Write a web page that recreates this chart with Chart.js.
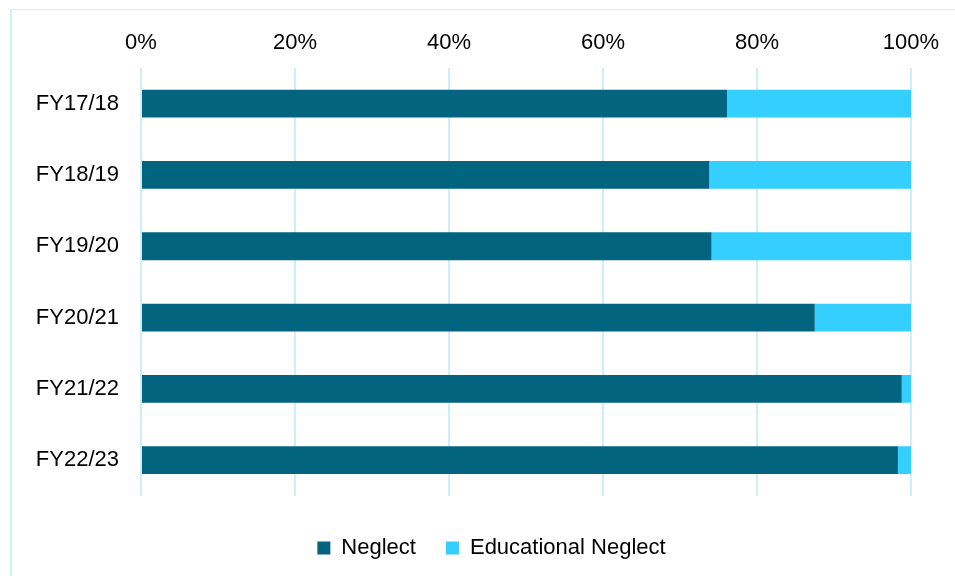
<!DOCTYPE html>
<html>
<head>
<meta charset="utf-8">
<script src="https://cdn.jsdelivr.net/npm/chart.js@4"></script>
<style>
  html, body { margin: 0; padding: 0; background: #fff; }
  #wrap { position: relative; width: 955px; height: 576px; overflow: hidden; }
  #frame {
    position: absolute; left: 10px; top: 9px; width: 1000px; height: 600px;
    border-left: 2px solid #d2f0fd; border-top: 1px solid #d2f0fd;
  }
  #chart1 { position: absolute; left: 0; top: 0; }
</style>
</head>
<body>
<div id="wrap">
  <div id="frame"></div>
  <canvas id="chart1" width="955" height="576"></canvas>
</div>
<script>
const years = ["FY17/18", "FY18/19", "FY19/20", "FY20/21", "FY21/22", "FY22/23"];
const neglect = [76.1, 73.8, 74.1, 87.5, 98.8, 98.3];
const educationalNeglect = [23.9, 26.2, 25.9, 12.5, 1.2, 1.7];
const tickValues = [0, 20, 40, 60, 80, 100];

// nudge the legend to the right like in the original
const legendShift = {
  id: "legendShift",
  afterLayout(chart) {
    chart.legend.left += 36;
    chart.legend.right += 36;
  },
};

function renderChart() {
  const ctx = document.querySelector("#chart1").getContext("2d");
  Chart.defaults.font.family = "'Liberation Sans', Arial, sans-serif";
  Chart.defaults.color = "#000";

  const chart = new Chart(ctx, {
    type: "bar",
    data: {
      labels: years,
      datasets: [
        {
          label: "Neglect",
          data: neglect,
          backgroundColor: "#02647f",
          borderWidth: 0,
        },
        {
          label: "Educational Neglect",
          data: educationalNeglect,
          backgroundColor: "#35cfff",
          borderWidth: 0,
        },
      ],
    },
    options: {
      indexAxis: "y",
      responsive: false,
      animation: false,
      layout: { padding: { left: 0, right: 44, top: 0, bottom: 7 } },
      datasets: { bar: { barPercentage: 0.39, categoryPercentage: 1 } },
      scales: {
        x: {
          position: "top",
          stacked: true,
          min: 0,
          max: 100,
          afterBuildTicks: (scale) => {
            scale.ticks = tickValues.map(v => ({ value: v }));
          },
          afterFit: (scale) => { scale.height = 68; },
          ticks: {
            padding: 12,
            font: { size: 22 },
            callback: (v) => v + "%",
          },
          grid: { color: "#cdeefd", lineWidth: 2, drawTicks: false },
          border: { display: false },
        },
        y: {
          stacked: true,
          afterFit: (scale) => { scale.width = 141; },
          ticks: { padding: 22, font: { size: 22 } },
          grid: { display: false, drawTicks: false },
          border: { display: false },
        },
      },
      plugins: {
        tooltip: { enabled: false },
        legend: {
          position: "bottom",
          title: { display: true, text: "", font: { size: 1 }, padding: { top: 10, bottom: 0 } },
          labels: {
            boxWidth: 13,
            boxHeight: 13,
            padding: 30,
            color: "#000",
            font: { size: 22 },
          },
        },
      },
    },
    plugins: [legendShift],
  });
}
renderChart();
</script>
</body>
</html>
